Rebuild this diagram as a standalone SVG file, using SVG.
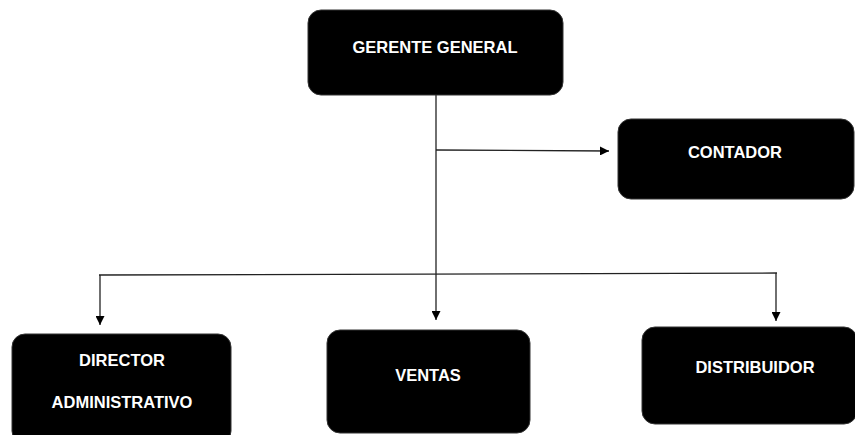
<svg xmlns="http://www.w3.org/2000/svg" width="855" height="435" viewBox="0 0 855 435">
<style>
.box{fill:#000;stroke:#333;stroke-width:1}
.lbl{fill:#fff;font-family:"Liberation Sans",Arial,sans-serif;font-weight:bold;font-size:16.5px;text-anchor:middle}
.ln{fill:none;stroke:#222;stroke-width:1.3}
</style>
<defs>
<marker id="ah" viewBox="0 0 10 10" refX="10" refY="5" markerWidth="9" markerHeight="9" markerUnits="userSpaceOnUse" orient="auto">
<path d="M0,0 L10,5 L0,10 Z" fill="#000"/>
</marker>
</defs>
<rect width="855" height="435" fill="#fff"/>
<g id="connectors">
<line class="ln" x1="436" y1="95" x2="436" y2="320" marker-end="url(#ah)"/>
<line class="ln" x1="436" y1="150" x2="609" y2="151" marker-end="url(#ah)"/>
<line class="ln" x1="99" y1="275" x2="777" y2="273"/>
<line class="ln" x1="100" y1="275" x2="100" y2="325" marker-end="url(#ah)"/>
<line class="ln" x1="776" y1="273" x2="776" y2="321" marker-end="url(#ah)"/>
</g>
<g id="gerente">
<rect class="box" x="308" y="10" width="255" height="85" rx="13"/>
<text class="lbl" x="435" y="53">GERENTE GENERAL</text>
</g>
<g id="contador">
<rect class="box" x="618" y="119" width="236" height="80" rx="13"/>
<text class="lbl" x="735" y="158">CONTADOR</text>
</g>
<g id="director">
<rect class="box" x="12" y="334" width="219" height="110" rx="13"/>
<text class="lbl" x="122" y="366">DIRECTOR</text>
<text class="lbl" x="122" y="408">ADMINISTRATIVO</text>
</g>
<g id="ventas">
<rect class="box" x="327" y="330" width="203" height="103" rx="13"/>
<text class="lbl" x="428" y="381">VENTAS</text>
</g>
<g id="distribuidor">
<rect class="box" x="642" y="327" width="215" height="97" rx="13"/>
<text class="lbl" x="755" y="373">DISTRIBUIDOR</text>
</g>
</svg>
